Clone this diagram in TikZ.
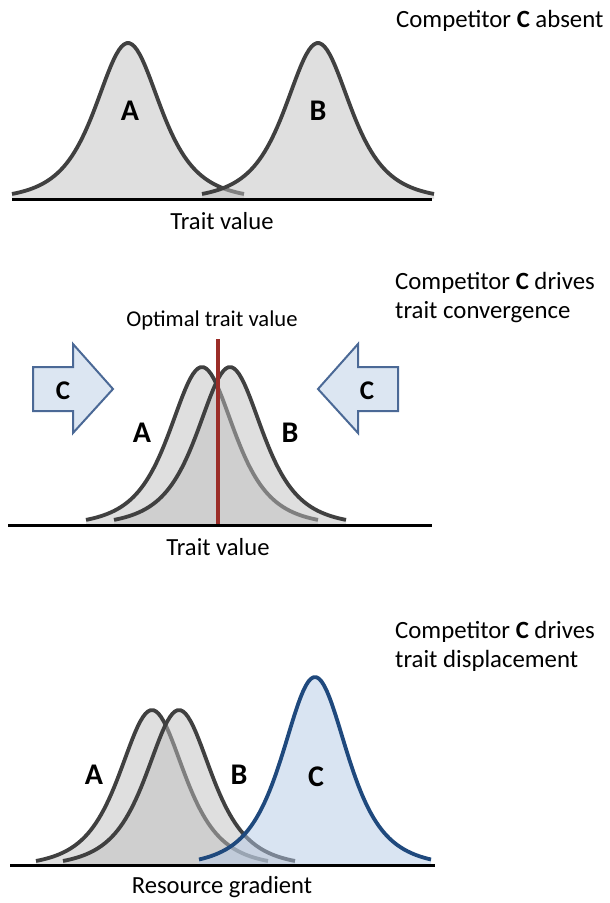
\documentclass[tikz,border=0pt]{standalone}
\usepackage{fontspec}
\setmainfont{Carlito}
\definecolor{crvgray}{RGB}{64,64,64}
\definecolor{optred}{RGB}{155,45,40}
\definecolor{cblue}{RGB}{31,73,125}
\definecolor{cfill}{RGB}{180,201,230}
\definecolor{arrblue}{RGB}{75,105,150}
\definecolor{arrfill}{RGB}{220,230,242}
\usetikzlibrary{positioning}

% bell curve: centre x, zero level y, height, style
\newcommand{\bellfill}[4]{\fill[#4] ({#1-116},{#2-2}) -- plot[domain=-116:116, samples=90]
  ({#1+\x},{#2-#3/(1+(\x/60)^2)^2}) -- ({#1+116},{#2-2}) -- cycle;}
\newcommand{\bellline}[4]{\draw[#4] plot[domain=-116:116, samples=90]
  ({#1+\x},{#2-#3/(1+(\x/60)^2)^2});}

\begin{document}
\begin{tikzpicture}[x=1pt, y=-1pt,
  ttl/.style={font=\fontsize{24.8}{29}\selectfont, align=left, inner sep=0pt},
  axlab/.style={font=\fontsize{24.6}{29}\selectfont, inner sep=0pt},
  lab/.style={font=\fontsize{30}{34}\selectfont\bfseries, inner sep=0pt},
  axis/.style={line width=3pt, black},
  gfill/.style={fill=black!25, fill opacity=0.5},
  gline/.style={line width=3.8pt, crvgray},
  bfill/.style={fill=cfill, fill opacity=0.5},
  bline/.style={line width=3.8pt, cblue},
  carrow/.style={draw=arrblue, fill=arrfill, line width=2pt, line join=miter}
]
\useasboundingbox (0,0) rectangle (610,903);

% Panel 1: competitor absent
\node[ttl, anchor=base west] (ttlone) at (396,27) {Competitor \textbf{C} absent};
\bellfill{128}{201}{158}{gfill}
\bellline{128}{201}{158}{gline}
\bellfill{318}{201}{158}{gfill}
\bellline{318}{201}{158}{gline}
\draw[axis] (12,199) -- (432,199);
\node[lab] (aone) at (130,111) {A};
\node[lab] (bone) at (318,111) {B};
\node[axlab] (xone) at (222,221) {Trait value};

% Panel 2: convergence
\node[ttl, anchor=base west] (ttltwo) at (395,318) {Competitor \textbf{C} drives\\trait convergence};
\node[axlab, font=\fontsize{22.6}{27}\selectfont] (opt) at (212,320) {Optimal trait value};
\draw[carrow] (33,367) -- (73,367) -- (73,344) -- (113,389) -- (73,433) -- (73,411) -- (33,411) -- cycle;
\draw[carrow] (398,367) -- (358,367) -- (358,344) -- (318,389) -- (358,433) -- (358,411) -- (398,411) -- cycle;
\node[lab, font=\fontsize{27}{32}\selectfont\bfseries] (cleft) at (63,391) {C};
\node[lab, font=\fontsize{27}{32}\selectfont\bfseries] (cright) at (367,391) {C};
\bellfill{202}{527}{160}{gfill}
\bellline{202}{527}{160}{gline}
\bellfill{230}{527}{160}{gfill}
\bellline{230}{527}{160}{gline}
\draw[line width=3.5pt, optred] (218,339) -- (218,525);
\draw[axis] (8,525) -- (432,525);
\node[lab] (atwo) at (142,433) {A};
\node[lab] (btwo) at (290,433) {B};
\node[axlab] (xtwo) at (218,547) {Trait value};

% Panel 3: displacement
\node[ttl, anchor=base west] (ttlthree) at (395,667) {Competitor \textbf{C} drives\\trait displacement};
\bellfill{152}{868}{158}{gfill}
\bellline{152}{868}{158}{gline}
\bellfill{179}{868}{158}{gfill}
\bellline{179}{868}{158}{gline}
\bellfill{315}{868}{191}{bfill}
\bellline{315}{868}{191}{bline}
\draw[axis] (10,865) -- (435,865);
\node[lab] (athree) at (94,775) {A};
\node[lab] (bthree) at (239,775) {B};
\node[lab] (cthree) at (316,777) {C};
\node[axlab] (xthree) at (222,887) {Resource gradient};
\end{tikzpicture}
\end{document}
